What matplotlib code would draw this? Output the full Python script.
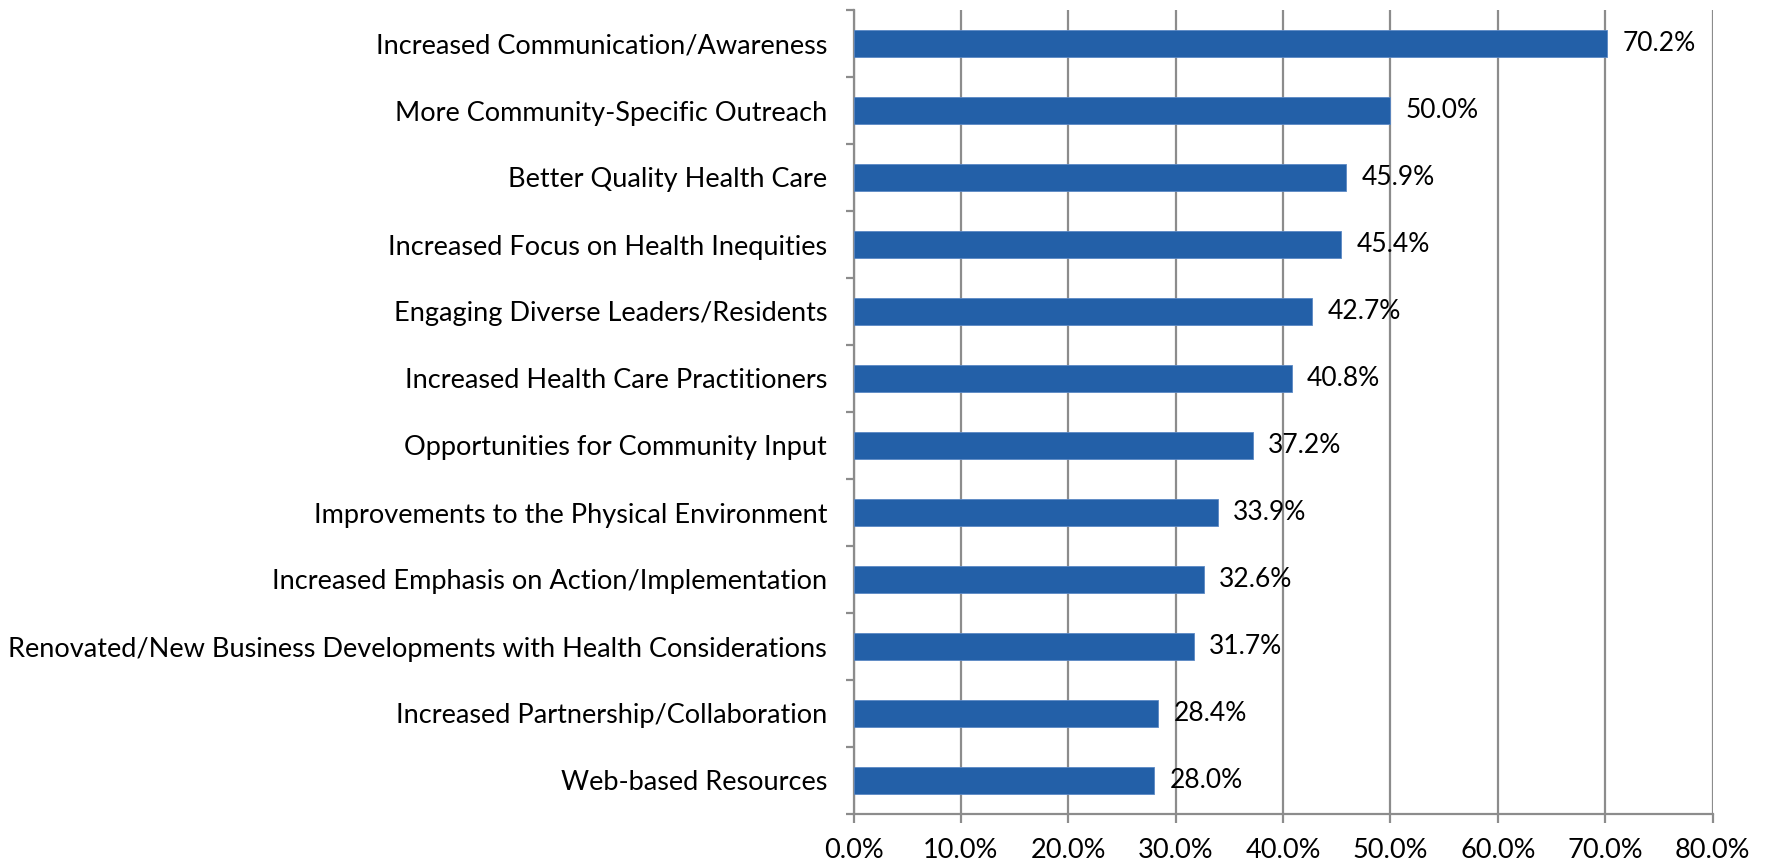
import matplotlib
matplotlib.use("Agg")
import matplotlib.pyplot as plt
from matplotlib.ticker import FixedLocator, FuncFormatter

categories = [
    "Increased Communication/Awareness",
    "More Community-Specific Outreach",
    "Better Quality Health Care",
    "Increased Focus on Health Inequities",
    "Engaging Diverse Leaders/Residents",
    "Increased Health Care Practitioners",
    "Opportunities for Community Input",
    "Improvements to the Physical Environment",
    "Increased Emphasis on Action/Implementation",
    "Renovated/New Business Developments with Health Considerations",
    "Increased Partnership/Collaboration",
    "Web-based Resources",
]
values = [70.2, 50.0, 45.9, 45.4, 42.7, 40.8, 37.2, 33.9, 32.6, 31.7, 28.4, 28.0]
xticks = [0, 10, 20, 30, 40, 50, 60, 70, 80]

plt.rcParams['font.family'] = ['Lato', 'DejaVu Sans']

W, H, DPI = 1767, 868, 100
fig = plt.figure(figsize=(W / DPI, H / DPI), dpi=DPI)
left, right, top, bottom = 853.5, 1712.5, 10, 814
ax = fig.add_axes([left / W, 1 - bottom / H, (right - left) / W, (bottom - top) / H])

n = len(categories)
pos = list(range(n))[::-1]
bar_color = "#2360A8"
ax.barh(pos, values, height=0.41, color=bar_color, edgecolor="#5b88c4", linewidth=0.6, zorder=3)

FS = 19.5
for p, v in zip(pos, values):
    ax.annotate(f"{v:.1f}%", xy=(v, p), xytext=(11, 0), textcoords="offset points",
                va="center", ha="left", fontsize=19, color="black", zorder=4)

ax.set_xlim(0, 80)
ax.set_ylim(-0.5, n - 0.5)
ax.set_xticks(xticks)
ax.xaxis.set_major_formatter(FuncFormatter(lambda x, _: f"{x:.1f}%"))
ax.set_yticks(pos)
ax.set_yticklabels(categories)
ax.yaxis.set_minor_locator(FixedLocator([i - 0.5 for i in range(n + 1)]))

ax.grid(axis="x", color="#8c8c8c", linewidth=1.6, zorder=0)
for s in ["top", "right"]:
    ax.spines[s].set_visible(False)
for s in ["left", "bottom"]:
    ax.spines[s].set_color("#8c8c8c")
    ax.spines[s].set_linewidth(1.6)

ax.tick_params(axis="y", which="major", length=0, pad=19, labelsize=FS)
ax.tick_params(axis="y", which="minor", length=6, width=1.6, color="#8c8c8c", direction="out")
ax.tick_params(axis="x", which="major", length=6.5, width=1.6, color="#8c8c8c", pad=11, labelsize=FS)

fig.savefig("out.png", dpi=DPI, facecolor="white")
